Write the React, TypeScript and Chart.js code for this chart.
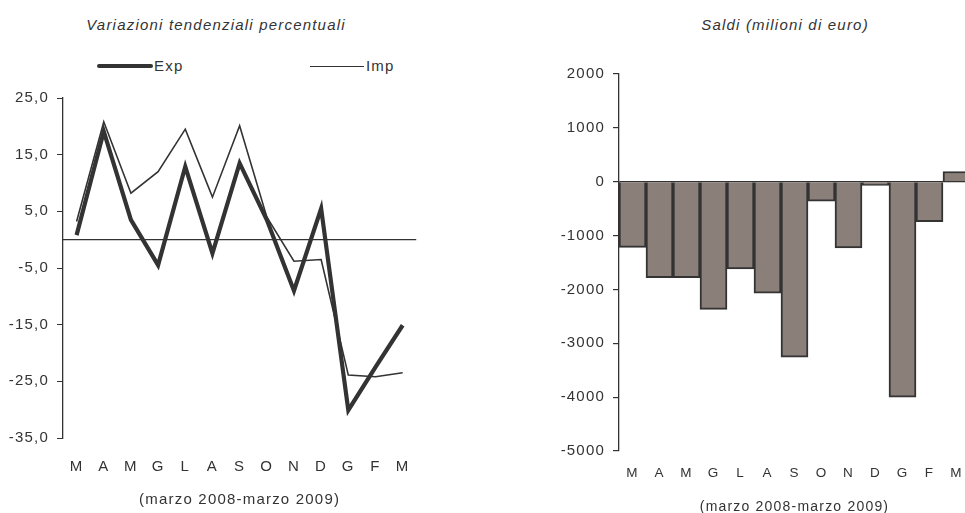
import React, { useEffect, useRef } from "react";
import { Chart, registerables } from "chart.js";

Chart.register(...registerables);

const categories = ["M", "A", "M", "G", "L", "A", "S", "O", "N", "D", "G", "F", "M"];
const expValues = [0.8, 19.1, 3.5, -4.5, 12.9, -2.4, 13.5, 3.5, -9.0, 5.5, -30.1, -22.5, -15.1];
const impValues = [3.2, 20.8, 8.2, 12.0, 19.5, 7.5, 20.1, 4.0, -3.8, -3.5, -23.9, -24.2, -23.5];
const saldiValues = [-1220, -1780, -1780, -2370, -1620, -2070, -3260, -360, -1230, -70, -4000, -740, 190];
const seriesNames = ["Exp", "Imp"];
const leftTitle = "Variazioni tendenziali percentuali";
const rightTitle = "Saldi (milioni di euro)";
const periodLabel = "(marzo 2008-marzo 2009)";

const INK = "#333333";
const FONT = "'Liberation Sans', Arial, sans-serif";
const SPACING = "1.2px";

const spacingPlugin = {
  id: "spacing",
  beforeUpdate(chart: any) {
    chart.ctx.letterSpacing = SPACING;
  },
  beforeDraw(chart: any) {
    chart.ctx.letterSpacing = SPACING;
  },
};

const zeroLinePlugin = {
  id: "zeroLine",
  beforeDatasetsDraw(chart: any) {
    const y = chart.scales.y.getPixelForValue(0);
    const { left, right } = chart.chartArea;
    const ctx = chart.ctx;
    ctx.save();
    ctx.strokeStyle = INK;
    ctx.lineWidth = 1.2;
    ctx.beginPath();
    ctx.moveTo(left, y);
    ctx.lineTo(right, y);
    ctx.stroke();
    ctx.restore();
  },
};

function LeftChart() {
  const ref = useRef<HTMLCanvasElement>(null);
  useEffect(() => {
    const chart = new Chart(ref.current!, {
      type: "line",
      data: {
        labels: categories,
        datasets: [
          {
            label: seriesNames[0],
            data: expValues,
            borderColor: INK,
            borderWidth: 4.2,
            pointRadius: 0,
            tension: 0,
            fill: false,
          },
          {
            label: seriesNames[1],
            data: impValues,
            borderColor: INK,
            borderWidth: 1.6,
            pointRadius: 0,
            tension: 0,
            fill: false,
          },
        ],
      },
      options: {
        animation: false,
        responsive: true,
        maintainAspectRatio: false,
        layout: { padding: { top: 98, right: 13, left: 0, bottom: 0 } },
        plugins: { legend: { display: false }, tooltip: { enabled: false } },
        scales: {
          y: {
            min: -35,
            max: 25,
            ticks: {
              stepSize: 10,
              color: INK,
              padding: 8,
              font: { family: FONT, size: 15 },
              callback: (v: any) => Number(v).toFixed(1).replace(".", ","),
            },
            grid: {
              display: true,
              drawOnChartArea: false,
              drawTicks: true,
              tickLength: 6,
              color: INK,
            },
            border: { display: true, color: INK, width: 1.3 },
            afterFit: (s: any) => {
              s.width = 63;
            },
          },
          x: {
            offset: true,
            ticks: {
              color: INK,
              padding: 20,
              maxRotation: 0,
              autoSkip: false,
              font: { family: FONT, size: 15 },
            },
            grid: { display: false, drawTicks: false },
            border: { display: false },
            title: {
              display: true,
              text: periodLabel,
              color: INK,
              font: { family: FONT, size: 15 },
              padding: { top: 0, bottom: 4 },
            },
            afterFit: (s: any) => {
              s.height = 75;
            },
          },
        },
      },
      plugins: [spacingPlugin, zeroLinePlugin],
    });
    return () => chart.destroy();
  }, []);
  return (
    <div style={{ position: "absolute", left: 0, top: 0, width: 430, height: 513 }}>
      <canvas ref={ref} />
    </div>
  );
}

function RightChart() {
  const ref = useRef<HTMLCanvasElement>(null);
  useEffect(() => {
    const chart = new Chart(ref.current!, {
      type: "bar",
      data: {
        labels: categories,
        datasets: [
          {
            label: rightTitle,
            data: saldiValues,
            backgroundColor: "#8b7f7a",
            borderColor: INK,
            borderWidth: 2,
            barPercentage: 1,
            categoryPercentage: 1,
          },
        ],
      },
      options: {
        animation: false,
        responsive: true,
        maintainAspectRatio: false,
        layout: { padding: { top: 74, right: 10, left: 0, bottom: 0 } },
        plugins: { legend: { display: false }, tooltip: { enabled: false } },
        scales: {
          y: {
            min: -5000,
            max: 2000,
            ticks: {
              stepSize: 1000,
              color: INK,
              padding: 8,
              font: { family: FONT, size: 15 },
              callback: (v: any) => String(v),
            },
            grid: {
              display: true,
              drawOnChartArea: true,
              drawTicks: true,
              tickLength: 6,
              color: (c: any) => (c.tick && c.tick.value === 0 ? INK : "rgba(0,0,0,0)"),
              tickColor: INK,
              lineWidth: 1.2,
            },
            border: { display: true, color: INK, width: 1.3 },
            afterFit: (s: any) => {
              s.width = 99;
            },
          },
          x: {
            ticks: {
              color: INK,
              padding: 14,
              maxRotation: 0,
              autoSkip: false,
              font: { family: FONT, size: 13.5 },
            },
            grid: { display: false, drawTicks: false },
            border: { display: false },
            title: {
              display: true,
              text: periodLabel,
              color: INK,
              font: { family: FONT, size: 14 },
              padding: { top: 0, bottom: -3 },
            },
            afterFit: (s: any) => {
              s.height = 62;
            },
          },
        },
      },
      plugins: [spacingPlugin],
    });
    return () => chart.destroy();
  }, []);
  return (
    <div style={{ position: "absolute", left: 520, top: 0, width: 460, height: 513 }}>
      <canvas ref={ref} />
    </div>
  );
}

const textStyle: React.CSSProperties = {
  position: "absolute",
  fontFamily: FONT,
  fontSize: 15,
  lineHeight: "18px",
  color: INK,
  letterSpacing: SPACING,
  whiteSpace: "nowrap",
};

export default function App() {
  return (
    <div
      style={{
        position: "absolute",
        left: 0,
        top: 0,
        width: 965,
        height: 513,
        overflow: "hidden",
        background: "#ffffff",
      }}
    >
      <div style={{ ...textStyle, left: 16, width: 400, top: 16, textAlign: "center", fontStyle: "italic" }}>
        {leftTitle}
      </div>
      <div style={{ ...textStyle, left: 585, width: 400, top: 16, textAlign: "center", fontStyle: "italic" }}>
        {rightTitle}
      </div>
      <div style={{ position: "absolute", left: 97, top: 64, width: 56, height: 4, background: INK, borderRadius: 2 }} />
      <div style={{ ...textStyle, left: 154, top: 57 }}>{seriesNames[0]}</div>
      <div style={{ position: "absolute", left: 310, top: 65.5, width: 54, height: 1.5, background: INK }} />
      <div style={{ ...textStyle, left: 366, top: 57 }}>{seriesNames[1]}</div>
      <LeftChart />
      <RightChart />
    </div>
  );
}
